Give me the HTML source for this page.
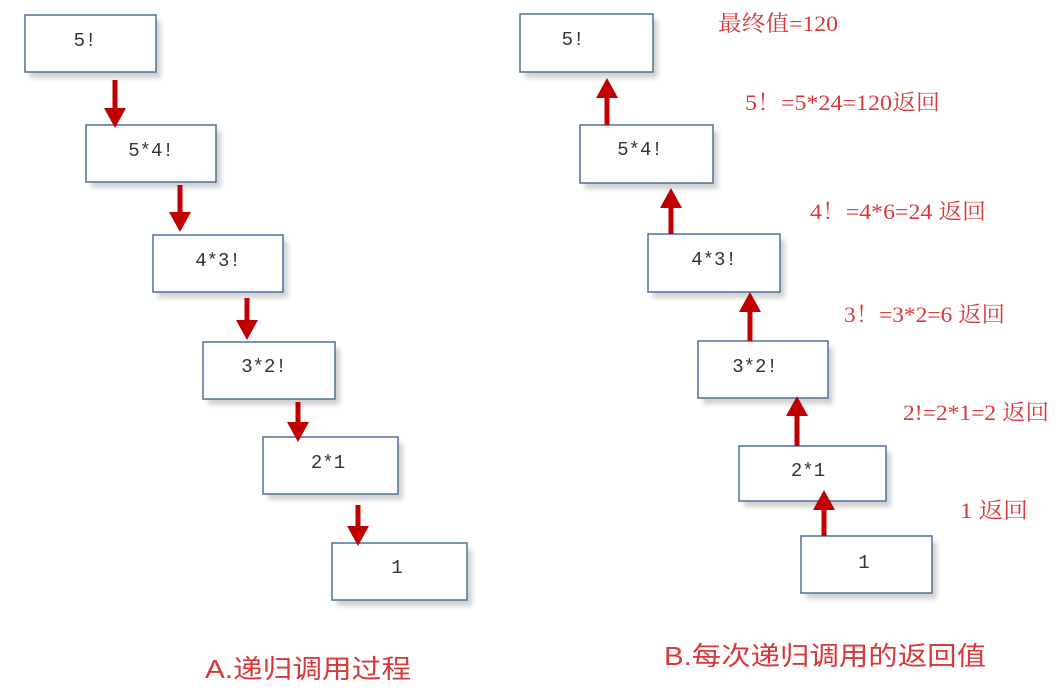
<!DOCTYPE html>
<html><head><meta charset="utf-8"><style>
html,body{margin:0;padding:0;background:#fff;}
svg{display:block;}
.b{fill:#fff;stroke:#4f6f9a;stroke-width:1.5;}
.s{fill:#999;opacity:.45;filter:url(#bl);}
.t{font-family:"Liberation Mono","DejaVu Sans Mono",monospace;font-size:19px;fill:#333;text-anchor:middle;}
.r{font-family:"Liberation Serif","Noto Serif CJK SC",serif;font-size:22px;fill:#d9383a;}
.c{font-family:"Liberation Sans","Noto Sans CJK SC",sans-serif;font-size:26px;fill:#d9383a;}
</style></head><body>
<svg width="1060" height="691" viewBox="0 0 1060 691">
<defs><filter id="bl"><feGaussianBlur stdDeviation="2.5"/></filter></defs>
<g id="boxes">
<rect class="s" x="30" y="21" width="131" height="57"/><rect class="b" x="25" y="15" width="131" height="57"/><text class="t" x="85" y="46">5!</text>
<rect class="s" x="91" y="131" width="130" height="57"/><rect class="b" x="86" y="125" width="130" height="57"/><text class="t" x="151" y="156">5*4!</text>
<rect class="s" x="158" y="241" width="130" height="57"/><rect class="b" x="153" y="235" width="130" height="57"/><text class="t" x="218" y="266">4*3!</text>
<rect class="s" x="208" y="348" width="132" height="57"/><rect class="b" x="203" y="342" width="132" height="57"/><text class="t" x="264" y="372">3*2!</text>
<rect class="s" x="268" y="443" width="135" height="57"/><rect class="b" x="263" y="437" width="135" height="57"/><text class="t" x="328" y="468">2*1</text>
<rect class="s" x="337" y="549" width="135" height="57"/><rect class="b" x="332" y="543" width="135" height="57"/><text class="t" x="397" y="573">1</text>
<rect class="s" x="525" y="20" width="133" height="58"/><rect class="b" x="520" y="14" width="133" height="58"/><text class="t" x="573" y="45">5!</text>
<rect class="s" x="585" y="131" width="133" height="58"/><rect class="b" x="580" y="125" width="133" height="58"/><text class="t" x="640" y="155">5*4!</text>
<rect class="s" x="653" y="240" width="132" height="58"/><rect class="b" x="648" y="234" width="132" height="58"/><text class="t" x="714" y="265">4*3!</text>
<rect class="s" x="703" y="347" width="130" height="57"/><rect class="b" x="698" y="341" width="130" height="57"/><text class="t" x="755" y="372">3*2!</text>
<rect class="s" x="744" y="452" width="147" height="55"/><rect class="b" x="739" y="446" width="147" height="55"/><text class="t" x="808" y="476">2*1</text>
<rect class="s" x="806" y="542" width="131" height="57"/><rect class="b" x="801" y="536" width="131" height="57"/><text class="t" x="864" y="568">1</text>
</g>
<g fill="#c00000" stroke="#c00000">
<line x1="115" y1="80" x2="115" y2="110" stroke-width="5"/><polygon points="104,108 126,108 115,128" stroke="none"/>
<line x1="180" y1="185" x2="180" y2="214" stroke-width="5"/><polygon points="169,212 191,212 180,232" stroke="none"/>
<line x1="247" y1="298" x2="247" y2="322" stroke-width="5"/><polygon points="236,320 258,320 247,340" stroke="none"/>
<line x1="298" y1="402" x2="298" y2="424" stroke-width="5"/><polygon points="287,422 309,422 298,442" stroke="none"/>
<line x1="358" y1="505" x2="358" y2="528" stroke-width="5"/><polygon points="347,526 369,526 358,546" stroke="none"/>
<line x1="607" y1="125" x2="607" y2="96" stroke-width="5"/><polygon points="596,98 618,98 607,78" stroke="none"/>
<line x1="671" y1="234" x2="671" y2="206" stroke-width="5"/><polygon points="660,208 682,208 671,188" stroke="none"/>
<line x1="750" y1="341" x2="750" y2="310" stroke-width="5"/><polygon points="739,312 761,312 750,292" stroke="none"/>
<line x1="797" y1="446" x2="797" y2="414" stroke-width="5"/><polygon points="786,416 808,416 797,396" stroke="none"/>
<line x1="824" y1="536" x2="824" y2="508" stroke-width="5"/><polygon points="813,510 835,510 824,490" stroke="none"/>
</g>
<text class="r" x="718" y="31" textLength="120" lengthAdjust="spacingAndGlyphs">最终值=120</text>
<text class="r" x="745" y="110" textLength="195" lengthAdjust="spacingAndGlyphs">5！=5*24=120返回</text>
<text class="r" x="810" y="219" textLength="176" lengthAdjust="spacingAndGlyphs">4！=4*6=24 返回</text>
<text class="r" x="844" y="322" textLength="161" lengthAdjust="spacingAndGlyphs">3！=3*2=6 返回</text>
<text class="r" x="903" y="420" textLength="146" lengthAdjust="spacingAndGlyphs">2!=2*1=2 返回</text>
<text class="r" x="960" y="518" textLength="68" lengthAdjust="spacingAndGlyphs">1 返回</text>
<text class="c" x="205" y="678" textLength="206" lengthAdjust="spacingAndGlyphs">A.递归调用过程</text>
<text class="c" x="664" y="665" textLength="322" lengthAdjust="spacingAndGlyphs">B.每次递归调用的返回值</text>
</svg>
</body></html>
